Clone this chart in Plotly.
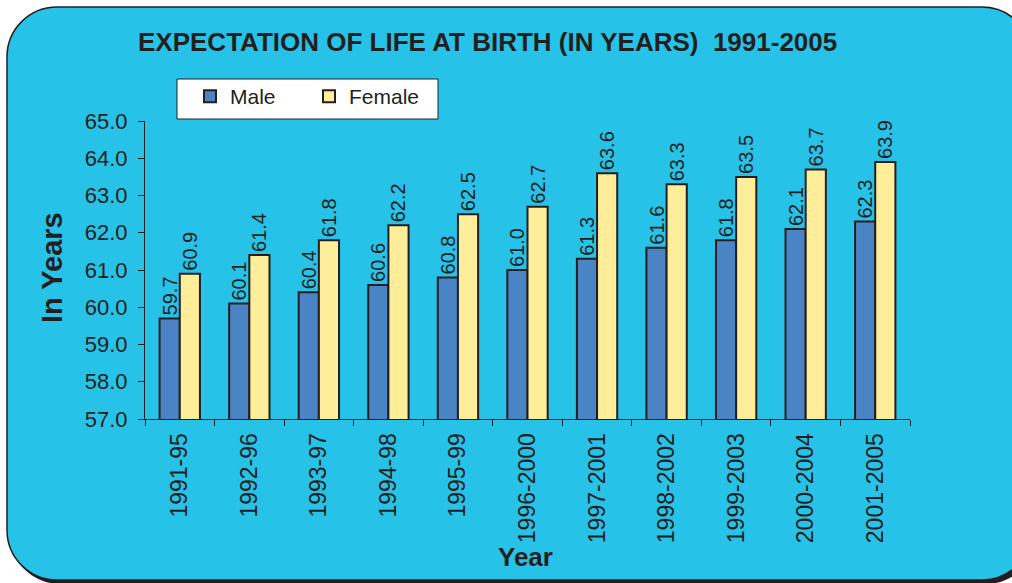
import plotly.graph_objects as go

periods = ["1991-95", "1992-96", "1993-97", "1994-98", "1995-99", "1996-2000",
           "1997-2001", "1998-2002", "1999-2003", "2000-2004", "2001-2005"]
male = [59.7, 60.1, 60.4, 60.6, 60.8, 61.0, 61.3, 61.6, 61.8, 62.1, 62.3]
female = [60.9, 61.4, 61.8, 62.2, 62.5, 62.7, 63.6, 63.3, 63.5, 63.7, 63.9]

W, H = 1012, 583
L, R, T, B = 145, 102, 121, 164
PW, PH = W - L - R, H - T - B

def px(x):
    return (x - L) / PW

def py(y):
    return (H - B - y) / PH

def rrect(x0, y0, x1, y1, r):
    k = 0.5523 * r
    pts = []
    pts.append(f"M{px(x0 + r)},{py(y0)}")
    pts.append(f"L{px(x1 - r)},{py(y0)}")
    pts.append(f"C{px(x1 - r + k)},{py(y0)} {px(x1)},{py(y0 + r - k)} {px(x1)},{py(y0 + r)}")
    pts.append(f"L{px(x1)},{py(y1 - r)}")
    pts.append(f"C{px(x1)},{py(y1 - r + k)} {px(x1 - r + k)},{py(y1)} {px(x1 - r)},{py(y1)}")
    pts.append(f"L{px(x0 + r)},{py(y1)}")
    pts.append(f"C{px(x0 + r - k)},{py(y1)} {px(x0)},{py(y1 - r + k)} {px(x0)},{py(y1 - r)}")
    pts.append(f"L{px(x0)},{py(y0 + r)}")
    pts.append(f"C{px(x0)},{py(y0 + r - k)} {px(x0 + r - k)},{py(y0)} {px(x0 + r)},{py(y0)}")
    pts.append("Z")
    return " ".join(pts)

TXT = "#231F20"
CYAN = "#26C2E8"
FONT = "Arial, Liberation Sans, sans-serif"

fig = go.Figure()
for name, vals, col in [("Male", male, "#4A84C4"), ("Female", female, "#FFEE99")]:
    fig.add_trace(go.Bar(
        x=periods, y=vals, name=name,
        marker=dict(color=col, line=dict(color=TXT, width=2)),
        texttemplate="%{y:.1f}", textposition="outside", textangle=-90,
        constraintext="none",
        textfont=dict(size=20, color=TXT, family=FONT), cliponaxis=False,
    ))

shapes = [
    dict(type="path", xref="paper", yref="paper", layer="below",
         path=rrect(10, 10, 1036, 584, 50), fillcolor=TXT, line=dict(width=0)),
    dict(type="path", xref="paper", yref="paper", layer="below",
         path=rrect(7, 7, 1032, 580, 50), fillcolor=CYAN, line=dict(color=TXT, width=1.5)),
    dict(type="rect", xref="paper", yref="paper", layer="below",
         x0=px(177), x1=px(438), y0=py(79), y1=py(119),
         fillcolor="white", line=dict(color=TXT, width=1)),
]

annotations = [
    dict(text="<b>EXPECTATION OF LIFE AT BIRTH (IN YEARS)  1991-2005</b>",
         x=px(487), y=py(42), xref="paper", yref="paper", showarrow=False,
         font=dict(size=26, color=TXT, family=FONT), xanchor="center", yanchor="middle"),
    dict(text="<b>In Years</b>", x=px(52), y=py(268), xref="paper", yref="paper",
         showarrow=False, textangle=-90, font=dict(size=29, color=TXT, family=FONT),
         xanchor="center", yanchor="middle"),
    dict(text="<b>Year</b>", x=px(525), y=py(557), xref="paper", yref="paper",
         showarrow=False, font=dict(size=26, color=TXT, family=FONT),
         xanchor="center", yanchor="middle"),
]

fig.update_layout(
    width=W, height=H,
    margin=dict(l=L, r=R, t=T, b=B),
    paper_bgcolor="white", plot_bgcolor="rgba(0,0,0,0)",
    barmode="group", bargap=0.42, bargroupgap=0,
    font=dict(family=FONT, color=TXT),
    shapes=shapes, annotations=annotations,
    showlegend=True,
    legend=dict(orientation="h", x=px(190), y=py(76), xanchor="left", yanchor="top",
                bgcolor="rgba(0,0,0,0)", borderwidth=0,
                font=dict(size=21, color=TXT, family=FONT),
                entrywidth=74, entrywidthmode="pixels", itemclick=False),
)
fig.update_xaxes(showline=True, linecolor=TXT, linewidth=1, ticks="outside",
                 tickson="boundaries", ticklen=6, tickcolor=TXT, tickangle=-90,
                 tickfont=dict(size=23, color=TXT, family=FONT), showgrid=False,
                 ticklabelstandoff=4)
fig.update_yaxes(range=[57, 65], dtick=1, tickformat=".1f", showline=True,
                 linecolor=TXT, linewidth=1, ticks="outside", ticklen=6, tickcolor=TXT,
                 tickfont=dict(size=22, color=TXT, family=FONT), showgrid=False,
                 zeroline=False, ticklabelstandoff=6)

fig.write_html("out.html", config={"displayModeBar": False},
               post_script="document.body.style.margin='0';")
